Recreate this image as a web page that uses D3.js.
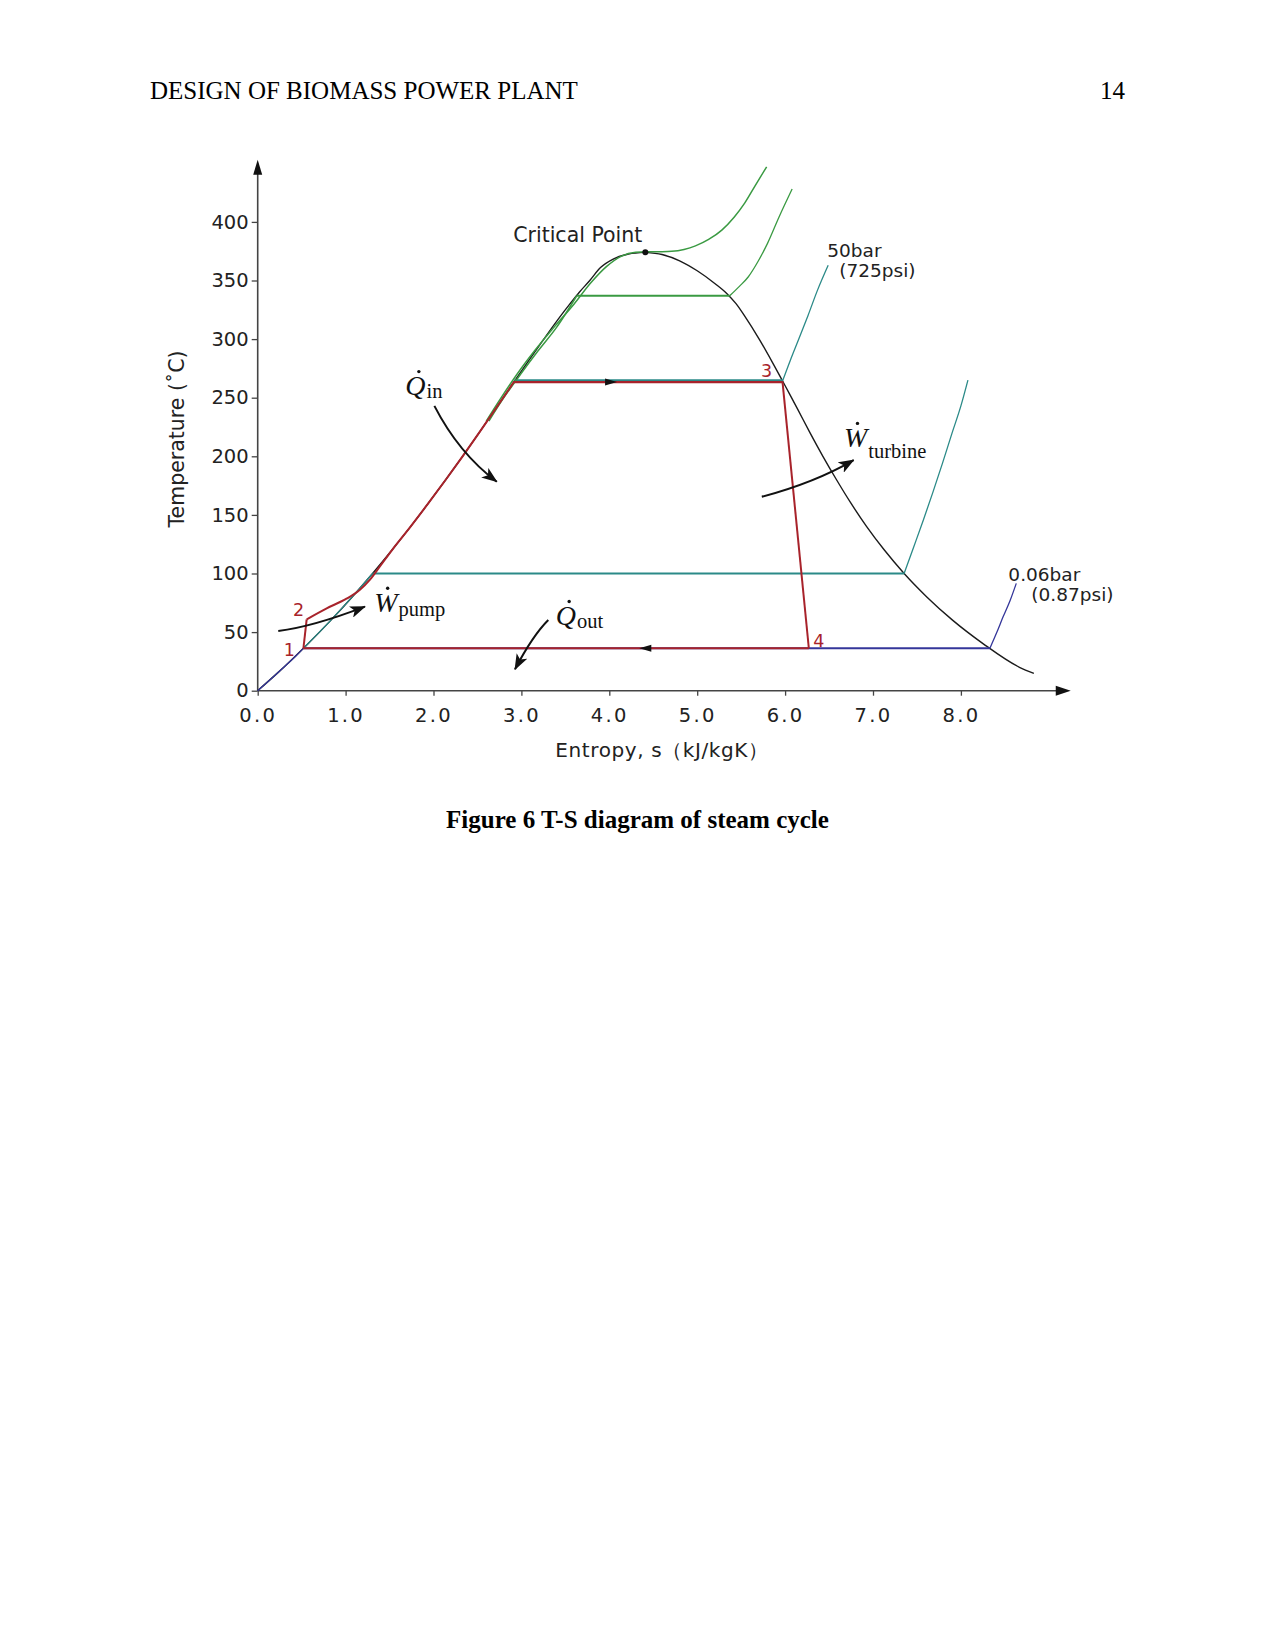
<!DOCTYPE html>
<html><head><meta charset="utf-8">
<script src="https://cdn.jsdelivr.net/npm/d3@7"></script>
<style>body{margin:0;background:#fff}</style>
</head><body>
<script>
// ---------- data ----------
const xTicks=[0,1,2,3,4,5,6,7,8];
const yTicks=[0,50,100,150,200,250,300,350,400];
const domeLiquid=[[0,0],[0.224,15],[0.297,20],[0.572,40],[0.831,60],[1.075,80],[1.307,100],[1.528,120],[1.739,140],[1.942,160],[2.139,180],[2.331,200],[2.518,220],[2.702,240],[2.793,250],[2.884,260],[3.067,280],[3.255,300],[3.449,320],[3.552,330],[3.659,340],[3.778,350],[3.90,361],[4.05,368.5],[4.22,372.6],[4.41,374]];
const domeVapour=[[4.41,374],[4.60,372.2],[4.80,366.8],[5.00,358.3],[5.20,347.5],[5.336,339],[5.444,330],[5.537,320],[5.705,300],[5.857,280],[6.002,260],[6.073,250],[6.144,240],[6.284,220],[6.430,200],[6.585,180],[6.749,160],[6.928,140],[7.129,120],[7.354,100],[7.612,80],[7.908,60],[8.255,40],[8.666,20],[8.83,14.8]];
const criticalPoint=[4.41,374];
// isobars
const isoSuper=[[2.60,230],[2.77,250],[2.95,270],[3.15,290],[3.37,310],[3.60,330],[3.79,348],[3.97,362],[4.14,370.8],[4.30,374],[4.45,374.5],[4.60,374.6],[4.71,374.9],[4.85,376.5],[4.98,379.5],[5.13,385],[5.28,393],[5.42,404],[5.54,416],[5.66,431],[5.79,447]];
const iso140Liquid=[[2.63,230],[2.80,250],[2.99,270],[3.19,290],[3.40,310],[3.63,337]];
const iso140Flat=[[3.63,337],[5.37,337]];
const iso140Vapour=[[5.37,337],[5.48,345],[5.58,353],[5.69,366],[5.80,381.7],[5.93,404],[6.08,428]];
const iso50Flat=[[2.92,264],[5.97,264]];
const iso50Vapour=[[5.97,264],[6.06,282],[6.15,299],[6.26,320],[6.37,342],[6.49,363]];
const iso1Liquid=[[0.52,36.2],[0.831,60],[1.075,80],[1.307,100]];
const iso1Flat=[[1.307,100],[7.354,100]];
const iso1Vapour=[[7.354,100],[7.46,122],[7.57,145],[7.68,169],[7.79,194],[7.90,220],[8.00,243],[8.08,265]];
const iso006Liquid=[[0,0],[0.15,10],[0.297,20],[0.44,30],[0.52,36.2]];
const iso006Flat=[[0.52,36.2],[8.33,36.2]];
const iso006Vapour=[[8.33,36.2],[8.41,50],[8.48,63],[8.56,77],[8.63,91.6]];
// Rankine cycle states 1..4
const stateNames=["1","2","3","4"];
const stateS=[0.52,0.557,5.97,6.27];
const stateT=[36.2,60.9,264,36.2];
const heating=[[0.557,60.9],[0.785,70.3],[1.01,78.5],[1.16,86],[1.28,95],[1.39,106],[1.528,120],[1.739,140],[1.942,160],[2.139,180],[2.331,200],[2.518,220],[2.702,240],[2.92,264]];
const dirArrowS=[4.02,4.41];
const dirArrowT=[264,36.2];
// annotation arrows: start, control, end (s,T)
const annArrows=[
  [[2.01,243],[2.29,202.3],[2.72,178.3]],
  [[5.735,165.5],[6.34,177.6],[6.78,196.8]],
  [[0.234,50.9],[0.627,54.6],[1.22,71.7]],
  [[3.306,60.3],[3.13,47.2],[2.927,18.3]]
];
const annMain=["Q","W","W","Q"];
const annSub=["in","turbine","pump","out"];
const annPos=[[1.68,252.2],[6.67,208],[1.325,67.4],[3.39,56.1]];
const pressureLabels=[["50bar","(725psi)"],["0.06bar","(0.87psi)"]];
const pressureLabelPos=[[6.48,370],[8.54,94]];

// ---------- drawing ----------
const W=1275,H=1650;
const svg=d3.select("body").append("svg").attr("width",W).attr("height",H).style("background","#fff");
const x=d3.scaleLinear().domain([0,8]).range([257.7,960.9]);
const y=d3.scaleLinear().domain([0,400]).range([690.7,221.9]);
const sans="'DejaVu Sans', Verdana, sans-serif";
const serif="'Liberation Serif','Times New Roman', serif";

// page header / caption
svg.append("text").attr("x",150).attr("y",99).attr("font-family",serif).attr("font-size",25).attr("fill","#000").text("DESIGN OF BIOMASS POWER PLANT");
svg.append("text").attr("x",1125).attr("y",99).attr("text-anchor","end").attr("font-family",serif).attr("font-size",25).attr("fill","#000").text("14");
svg.append("text").attr("x",637.5).attr("y",828).attr("text-anchor","middle").attr("font-family",serif).attr("font-size",25).attr("font-weight","bold").attr("fill","#000").text("Figure 6 T-S diagram of steam cycle");

const C={dome:"#1b1b1b",red:"#a8232b",teal:"#2b8a88",green:"#3a9a42",blue:"#34369a",axis:"#444"};
const lineC=d3.line().x(d=>x(d[0])).y(d=>y(d[1])).curve(d3.curveMonotoneX);
const lineL=d3.line().x(d=>x(d[0])).y(d=>y(d[1]));
function draw(data,color,w,curved=true,extra){
  const pts=curved?data.slice().sort((a,b)=>a[0]-b[0]):data;
  const p=svg.append("path").attr("d",(curved?lineC:lineL)(pts)).attr("fill","none").attr("stroke",color).attr("stroke-width",w).attr("stroke-linejoin","round");
  if(extra) extra(p);
  return p;
}

// axes
const xAxis=d3.axisBottom(x).tickValues(xTicks).tickFormat(d3.format(".1f")).tickSize(5).tickPadding(12);
const gx=svg.append("g").attr("transform",`translate(0,${y(0)})`).call(xAxis);
gx.select(".domain").remove();
gx.selectAll("line").attr("stroke",C.axis).attr("stroke-width",1.3);
gx.selectAll("text").attr("font-family",sans).attr("font-size",19.5).attr("fill","#222").attr("letter-spacing","2.3px");
const yAxis=d3.axisLeft(y).tickValues(yTicks).tickSize(6).tickPadding(3);
const gy=svg.append("g").attr("transform",`translate(${x(0)},0)`).call(yAxis);
gy.select(".domain").remove();
gy.selectAll("line").attr("stroke",C.axis).attr("stroke-width",1.3);
gy.selectAll("text").attr("font-family",sans).attr("font-size",19.5).attr("fill","#222");
// axis lines with arrowheads
const xEnd=x(9.25), yTop=y(453);
svg.append("line").attr("x1",x(0)).attr("x2",xEnd-4).attr("y1",y(0)).attr("y2",y(0)).attr("stroke",C.axis).attr("stroke-width",1.6);
svg.append("path").attr("d",`M${xEnd},${y(0)} L${xEnd-15},${y(0)-5} L${xEnd-15},${y(0)+5} Z`).attr("fill","#111");
svg.append("line").attr("x1",x(0)).attr("x2",x(0)).attr("y1",y(0)).attr("y2",yTop+4).attr("stroke",C.axis).attr("stroke-width",1.6);
svg.append("path").attr("d",`M${x(0)},${yTop} L${x(0)-4.5},${yTop+15} L${x(0)+4.5},${yTop+15} Z`).attr("fill","#111");
// axis titles
svg.append("text").attr("transform",`translate(184,439) rotate(-90)`).attr("text-anchor","middle").attr("font-family",sans).attr("font-size",20.5).attr("fill","#222").text("Temperature (˚C)");
svg.append("text").attr("x",662).attr("y",757).attr("text-anchor","middle").attr("font-family",sans).attr("font-size",20).attr("letter-spacing","0.6px").attr("fill","#222").text("Entropy, s（kJ/kgK）");

// dome
draw(domeLiquid,C.dome,1.4);
draw(domeVapour,C.dome,1.4);

// isobars
draw(iso006Liquid,C.blue,1.3);
draw(iso006Flat,C.blue,2,false);
draw(iso006Vapour,C.blue,1.3);
draw(iso1Liquid,C.teal,1.3);
draw(iso1Flat,C.teal,2.2,false);
draw(iso1Vapour,C.teal,1.3);
draw(iso50Flat,C.teal,1.6,false,p=>p.attr("transform","translate(0,-1.2)"));
draw(iso50Vapour,C.teal,1.3);
draw(isoSuper,C.green,1.5);
draw(iso140Liquid,C.green,1.5);
draw(iso140Flat,C.green,2,false);
draw(iso140Vapour,C.green,1.3);

// cycle
const P=i=>[stateS[i],stateT[i]];
draw([P(0),P(1)],C.red,2,false);
draw(heating,C.red,2);
draw([[2.92,264],P(2)],C.red,2.2,false,p=>p.attr("transform","translate(0,0.8)"));
draw([P(2),P(3)],C.red,2,false);
draw([P(3),P(0)],C.red,2.2,false);

// critical point
svg.append("circle").attr("cx",x(criticalPoint[0])).attr("cy",y(criticalPoint[1])).attr("r",3).attr("fill","#111");
svg.append("text").attr("x",x(criticalPoint[0])-3).attr("y",y(criticalPoint[1])-10.5).attr("text-anchor","end").attr("font-family",sans).attr("font-size",20.5).attr("fill","#222").text("Critical Point");

// direction arrows on cycle
dirArrowS.forEach((s,i)=>{
  const px=x(s),py=y(dirArrowT[i])+(i===0?0.8:0), dir=i===0?1:-1;
  svg.append("path").attr("d",`M${px+dir*6},${py} L${px-dir*6},${py-3.5} L${px-dir*6},${py+3.5} Z`).attr("fill","#111");
});

// state labels
const stOff=[[-14,1],[-8,-10],[-16,-11],[10,-8]];
stateNames.forEach((n,i)=>{
  svg.append("text").attr("x",x(stateS[i])+stOff[i][0]).attr("y",y(stateT[i])+stOff[i][1]).attr("dy","0.36em").attr("text-anchor","middle")
    .attr("font-family",sans).attr("font-size",17.5).attr("fill",C.red).text(n);
});

// pressure labels
const plOff=[[[0,0],[12,20]],[[0,0],[23,20]]];
pressureLabels.forEach((lab,i)=>{
  lab.forEach((t,j)=>{
    svg.append("text").attr("x",x(pressureLabelPos[i][0])+plOff[i][j][0]).attr("y",y(pressureLabelPos[i][1])+plOff[i][j][1])
      .attr("font-family",sans).attr("font-size",18.5).attr("fill","#222").text(t);
  });
});

// annotation arrows
const defs=svg.append("defs");
defs.append("marker").attr("id","ah").attr("viewBox","0 0 16 12").attr("refX",15).attr("refY",6)
  .attr("markerWidth",16).attr("markerHeight",12).attr("markerUnits","userSpaceOnUse").attr("orient","auto")
  .append("path").attr("d","M0,0 L16,6 L0,12 L4,6 Z").attr("fill","#111");
annArrows.forEach(a=>{
  const [p0,c,p1]=a;
  svg.append("path").attr("d",`M${x(p0[0])},${y(p0[1])} Q${x(c[0])},${y(c[1])} ${x(p1[0])},${y(p1[1])}`)
    .attr("fill","none").attr("stroke","#111").attr("stroke-width",2).attr("marker-end","url(#ah)");
});
// annotation labels
const subDy=[3,11,4,3];
annMain.forEach((m,i)=>{
  const px=x(annPos[i][0]),py=y(annPos[i][1]);
  const t=svg.append("text").attr("x",px).attr("y",py).attr("font-family",serif).attr("fill","#111");
  t.append("tspan").attr("font-style","italic").attr("font-size",28).text(m);
  t.append("tspan").attr("font-size",20.5).attr("dx",1).attr("dy",subDy[i]).text(annSub[i]);
  svg.append("circle").attr("cx",px+13.5).attr("cy",py-23.5).attr("r",1.7).attr("fill","#111");
});
</script>
</body></html>
